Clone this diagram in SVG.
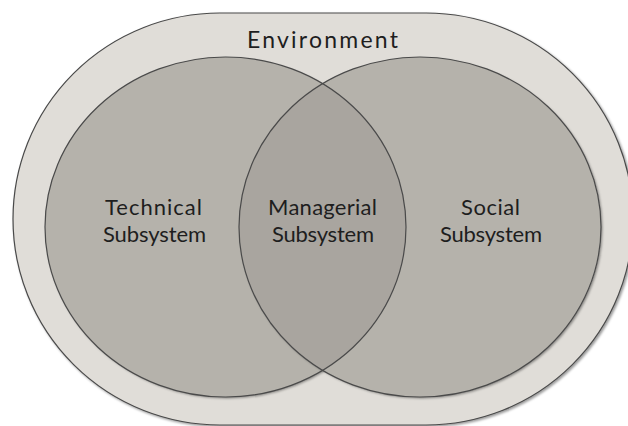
<svg xmlns="http://www.w3.org/2000/svg" width="628" height="426" viewBox="0 0 628 426">
  <defs>
    <filter id="sh" x="-10%" y="-10%" width="120%" height="120%">
      <feDropShadow dx="1.5" dy="1.5" stdDeviation="1.2" flood-color="#000" flood-opacity="0.4"/>
    </filter>
    <clipPath id="clipR">
      <ellipse cx="420" cy="227" rx="181" ry="170"/>
    </clipPath>
  </defs>
  <style>
    .outer { fill: #e0ddd8; stroke: #4a4a4a; stroke-width: 1.2; }
    .set { fill: #b5b2ab; stroke: none; }
    .overlap { fill: #a9a59f; }
    .edge { fill: none; stroke: #4a4a4a; stroke-width: 1.2; }
    .lbl { font-family: "Lato", "Open Sans", "Liberation Sans", sans-serif; font-size: 22px; fill: #1e1e1e; text-anchor: middle; }
    .title { font-size: 23px; }
  </style>
  <rect width="628" height="426" fill="#ffffff"/>
  <g id="environment">
    <rect class="outer" x="13" y="13" width="620" height="412" rx="207" ry="206" filter="url(#sh)"/>
    <text class="lbl title" x="322.5" y="48" textLength="151" lengthAdjust="spacing">Environment</text>
  </g>
  <g id="technical">
    <ellipse class="set" cx="225.5" cy="227" rx="180.5" ry="170" filter="url(#sh)"/>
  </g>
  <g id="social">
    <ellipse class="set" cx="420" cy="227" rx="181" ry="170" filter="url(#sh)"/>
  </g>
  <g id="managerial">
    <ellipse class="set overlap" cx="225.5" cy="227" rx="180.5" ry="170" clip-path="url(#clipR)"/>
  </g>
  <g id="outlines">
    <ellipse class="edge" cx="225.5" cy="227" rx="180.5" ry="170"/>
    <ellipse class="edge" cx="420" cy="227" rx="181" ry="170"/>
  </g>
  <g id="labels">
    <text class="lbl" x="153.5" y="215" textLength="97" lengthAdjust="spacing">Technical</text>
    <text class="lbl" x="154.5" y="242" textLength="103" lengthAdjust="spacing">Subsystem</text>
    <text class="lbl" x="322.5" y="215" textLength="109" lengthAdjust="spacing">Managerial</text>
    <text class="lbl" x="323" y="242" textLength="102" lengthAdjust="spacing">Subsystem</text>
    <text class="lbl" x="490.5" y="215" textLength="59" lengthAdjust="spacing">Social</text>
    <text class="lbl" x="491" y="242" textLength="102" lengthAdjust="spacing">Subsystem</text>
  </g>
  <g id="connectors"></g>
</svg>
